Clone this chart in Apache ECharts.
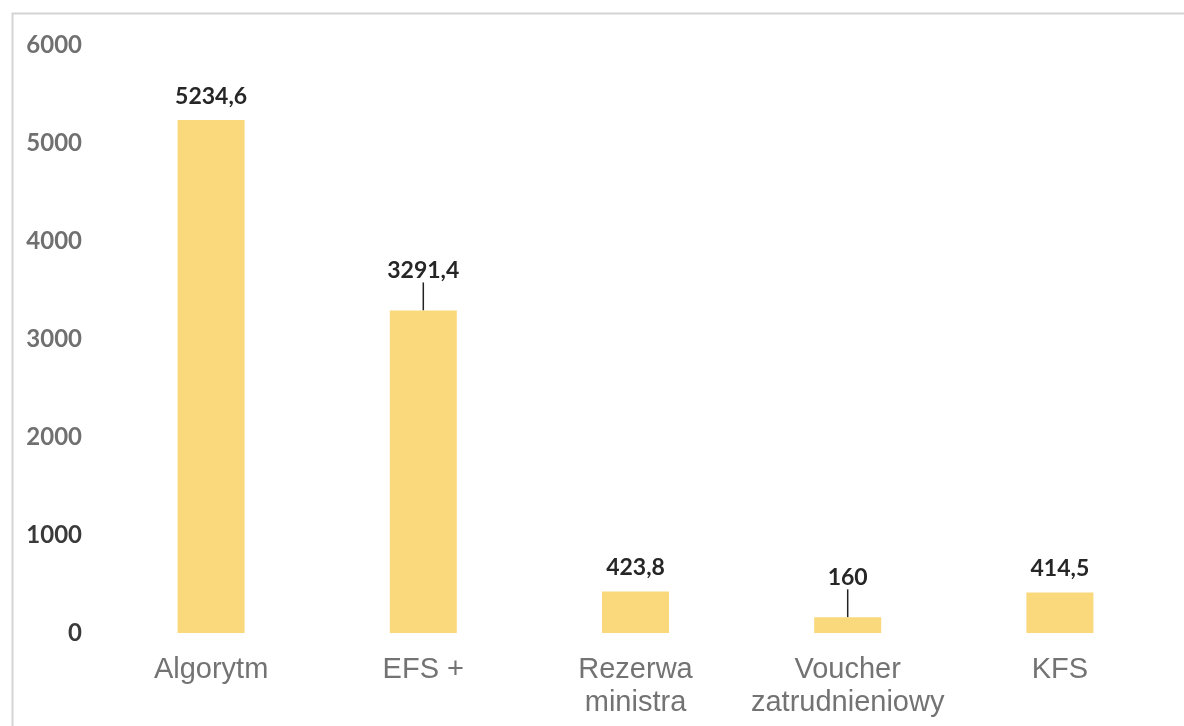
<!DOCTYPE html>
<html><head><meta charset="utf-8">
<script src="https://cdn.jsdelivr.net/npm/echarts@6/dist/echarts.min.js"></script>
<style>html,body{margin:0;padding:0;background:#fff}#c{width:1184px;height:726px}</style>
</head><body><div id="c"></div>
<script>
const categories = ['Algorytm', 'EFS +', 'Rezerwa\nministra', 'Voucher\nzatrudnieniowy', 'KFS'];
const values = [5234.6, 3291.4, 423.8, 160, 414.5];
const valueLabels = ['5234,6', '3291,4', '423,8', '160', '414,5'];
const leaderIdx = [1, 3];

const chart = echarts.init(document.getElementById('c'));
chart.setOption({
  backgroundColor: '#fff',
  animation: false,
  graphic: [{type: 'rect', left: 10, top: 11, shape: {width: 1300, height: 900}, style: {fill: 'none', stroke: '#d4d4d4', lineWidth: 2}}],
  grid: {left: 105, right: 18, top: 45, bottom: 93},
  xAxis: {
    type: 'category', data: categories,
    axisLine: {show: false}, axisTick: {show: false},
    axisLabel: {color: '#737373', fontFamily: 'Liberation Sans', fontSize: 29, lineHeight: 33, margin: 20, interval: 0}
  },
  yAxis: {
    type: 'value', min: 0, max: 6000, interval: 1000,
    splitLine: {show: false}, axisLine: {show: false}, axisTick: {show: false},
    axisLabel: {
      margin: 23,
      formatter: v => v <= 1000 ? '{d|' + v + '}' : '{g|' + v + '}',
      rich: {
        g: {color: '#707070', fontFamily: 'Lato', fontWeight: 'bold', fontSize: 24},
        d: {color: '#3a3a3a', fontFamily: 'Lato', fontWeight: 'bold', fontSize: 24}
      }
    }
  },
  series: [{
    type: 'bar', barWidth: 67,
    data: values.map((v, i) => ({
      value: v,
      labelLine: {show: leaderIdx.indexOf(i) >= 0}
    })),
    itemStyle: {color: '#FAD87C'},
    label: {
      show: true, position: 'top', distance: 12,
      color: '#262626', fontFamily: 'Lato', fontWeight: 'bold', fontSize: 23,
      formatter: p => valueLabels[p.dataIndex]
    },
    labelLine: {lineStyle: {color: '#222', width: 1.5}},
    labelLayout: p => leaderIdx.indexOf(p.dataIndex) >= 0 ? {dy: -16} : {}
  }]
});
</script></body></html>
